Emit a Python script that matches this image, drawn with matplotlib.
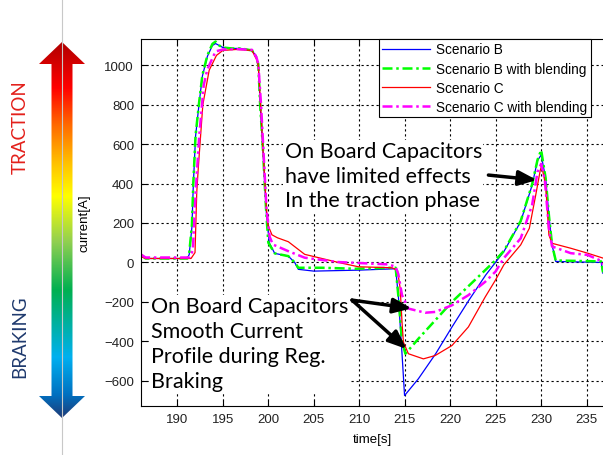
import numpy as np
import matplotlib
matplotlib.use("Agg")
import matplotlib.pyplot as plt
from matplotlib.path import Path
from matplotlib.patches import PathPatch
from matplotlib.colors import LinearSegmentedColormap

plt.rcParams['font.family'] = ['Liberation Sans', 'DejaVu Sans']

# Scenario B (no blending)
t_b = [186.0, 186.5, 191.1, 191.3, 191.6, 191.75, 192.0, 192.4, 192.75, 193.3, 193.85, 194.2,
       194.6, 195.0, 196.0, 197.0, 198.2, 198.6, 198.9, 199.1, 199.4, 199.75, 200.1, 200.7,
       202.2, 202.9, 203.3, 205.0, 207.0, 210.0, 214.0, 214.3, 214.7, 214.98, 216.5, 218.4,
       220.2, 222.05, 223.9, 225.9, 227.75, 229.0, 229.6, 230.0, 230.5, 230.85, 231.2, 231.6,
       236.6, 236.8]
i_b = [40, 20, 20, 40, 180, 390, 640, 810, 945, 1045, 1100, 1110,
       1100, 1090, 1085, 1085, 1075, 1050, 1005, 800, 580, 270, 100, 46,
       32, 0, -35, -44, -42, -39, -32, -171, -463, -675, -590, -463,
       -327, -192, -64, 55, 207, 391, 517, 545, 425, 240, 89, 5,
       0, -55]

# Scenario B with blending
t_bb = [186.0, 186.5, 191.1, 191.3, 191.6, 191.75, 192.0, 192.4, 192.75, 193.3, 193.85, 194.2,
        194.6, 195.0, 196.0, 197.0, 198.2, 198.6, 198.9, 199.1, 199.4, 199.75, 200.0, 200.7,
        202.2, 202.9, 203.3, 205.9, 209.55, 213.6, 214.0, 214.3, 214.7, 215.07, 216.5, 220.2,
        223.85, 224.8, 225.9, 227.75, 229.0, 229.6, 230.0, 230.5, 230.85, 231.2, 231.6, 236.6,
        236.8]
i_bb = [40, 20, 20, 45, 190, 400, 645, 815, 950, 1050, 1108, 1120,
        1100, 1090, 1085, 1085, 1075, 1050, 1005, 800, 580, 270, 100, 46,
        32, 0, -27, -27, -32, -27, -27, -171, -400, -463, -387, -200,
        -39, 3, 58, 210, 395, 520, 570, 425, 240, 89, 10, 5,
        -50]

# Scenario C (no blending)
t_c = [186.0, 186.5, 191.5, 191.94, 192.13, 192.3, 192.8, 193.5, 194.3, 195.0, 196.5, 198.2,
       198.7, 198.9, 199.15, 199.4, 199.8, 199.95, 200.4, 201.0, 202.2, 204.0, 207.7, 209.9,
       213.6, 214.2, 214.5, 214.7, 214.85, 215.4, 217.05, 218.35, 220.2, 222.0, 223.85, 224.97,
       225.9, 227.75, 228.7, 229.4, 229.9, 230.05, 230.5, 230.85, 231.2, 233.25, 235.1, 236.8]
i_c = [30, 20, 20, 50, 355, 480, 800, 975, 1050, 1075, 1080, 1075,
       1030, 1000, 800, 580, 270, 190, 140, 125, 105, 41, 0, -22,
       -27, -40, -132, -302, -404, -463, -489, -472, -421, -327, -175, -90,
       -12, 89, 173, 341, 467, 490, 391, 139, 97, 72, 47, 22]

# Scenario C with blending
t_cb = [186.0, 186.5, 191.3, 191.7, 192.0, 192.4, 192.9, 193.3, 194.2, 195.0, 196.5, 198.2,
        198.7, 198.9, 199.2, 199.45, 199.8, 200.15, 200.5, 202.2, 204.0, 207.7, 213.2, 214.0,
        214.3, 214.7, 215.4, 217.25, 218.35, 220.2, 222.0, 223.85, 224.97, 225.9, 227.75, 229.0,
        229.6, 230.0, 230.4, 230.85, 231.2, 233.25, 235.1, 236.5, 236.8]
i_cb = [40, 25, 25, 60, 350, 641, 900, 980, 1070, 1080, 1082, 1078,
        1040, 1005, 800, 580, 270, 130, 91, 57, 24, 2, -10, -22,
        -60, -166, -234, -255, -251, -217, -166, -98, -47, 22, 122, 290,
        459, 500, 420, 173, 81, 47, 38, 10, -10]

labels = ['Scenario B', 'Scenario B with blending', 'Scenario C', 'Scenario C with blending']
notes = ['On Board Capacitors\nhave limited effects\nIn the traction phase',
         'On Board Capacitors\nSmooth Current\nProfile during Reg.\nBraking']

fig = plt.figure(figsize=(6.03, 4.56), dpi=100)

# left decoration: gradient arrow with TRACTION / BRAKING
ax_l = fig.add_axes([0, 0, 1, 1], zorder=-1)
ax_l.set_xlim(0, 603)
ax_l.set_ylim(456, 0)
ax_l.axis('off')
ax_l.plot([62, 62], [0, 456], color='#c8c8c8', lw=0.8)
cx = 62
verts = [(cx, 43), (cx + 23, 65), (cx + 10.5, 65), (cx + 10.5, 397), (cx + 23, 397), (cx, 419),
         (cx - 23, 397), (cx - 10.5, 397), (cx - 10.5, 65), (cx - 23, 65), (cx, 43)]
arrow = PathPatch(Path(verts, closed=True), facecolor='none', edgecolor='none')
ax_l.add_patch(arrow)
cmap = LinearSegmentedColormap.from_list('tb', [
    (0.0, '#b00000'), (0.12, '#ff0000'), (0.22, '#ff6a00'), (0.32, '#ffc000'),
    (0.41, '#ffff00'), (0.53, '#92d050'), (0.66, '#00b050'), (0.84, '#00b0f0'),
    (0.94, '#0070c0'), (1.0, '#1f3c78')])
grad = np.linspace(0, 1, 256).reshape(-1, 1)
im = ax_l.imshow(grad, cmap=cmap, extent=[cx - 24, cx + 24, 419, 43], aspect='auto')
im.set_clip_path(arrow)
ax_l.set_xlim(0, 603)
ax_l.set_ylim(456, 0)
fig.text(20 / 603, 1 - 127 / 456, 'TRACTION', rotation=90, color='#e3201b', fontsize=13.5,
         family='Lato', ha='center', va='center')
fig.text(20 / 603, 1 - 337 / 456, 'BRAKING', rotation=90, color='#1f3a6e', fontsize=13.5,
         family='Lato', ha='center', va='center')

# main chart
ax = fig.add_axes([141 / 603, 1 - 407 / 456, 462 / 603, 367 / 456])
ax.plot(t_b, i_b, color='#0000ff', lw=0.9, label=labels[0])
ax.plot(t_bb, i_bb, color='#00ff00', lw=1.8, ls=(0, (4, 1.5, 1, 1.5)), label=labels[1])
ax.plot(t_c, i_c, color='#ff0000', lw=0.9, label=labels[2])
ax.plot(t_cb, i_cb, color='#ff00ff', lw=1.8, ls=(0, (4, 1.5, 1, 1.5)), label=labels[3])

ax.set_xlim(186, 236.8)
ax.set_ylim(-728, 1133)
ax.set_xticks(np.arange(190, 236, 5))
ax.set_yticks(np.arange(-600, 1001, 200))
ax.grid(True, color='black', ls=(0, (2, 2.5)), lw=0.8)
ax.set_axisbelow(True)
ax.tick_params(direction='in', length=4, top=True, right=False, labelsize=9.5, pad=5,
               labelcolor='#222222')
ax.spines['right'].set_visible(False)
ax.set_xlabel('time[s]', fontsize=9.5, labelpad=6)
ax.set_ylabel('current[A]', fontsize=9.5, labelpad=10)

leg = ax.legend(loc='upper right', bbox_to_anchor=(0.974, 1.0), borderaxespad=0,
                fancybox=False, framealpha=1, edgecolor='black', fontsize=9.8,
                handlelength=3.5, labelspacing=0.38, handletextpad=0.5, borderpad=0.25)
leg.get_frame().set_linewidth(0.8)

ax.text(201.8, 440, notes[0], family='Lato', fontsize=15.5, ha='left', va='center',
        linespacing=1.3, bbox=dict(facecolor='white', edgecolor='none', pad=1))
ax.text(187.06, -411, notes[1], family='Lato', fontsize=15.5, ha='left', va='center',
        linespacing=1.3, bbox=dict(facecolor='white', edgecolor='none', pad=1))

aprops = dict(arrowstyle='-|>,head_length=1.1,head_width=0.45', lw=2.5, color='black',
              mutation_scale=10, shrinkA=0, shrinkB=0)
ax.annotate('', xy=(229.53, 418), xytext=(224.2, 443), arrowprops=aprops)
ax.annotate('', xy=(215.74, -233), xytext=(209.2, -191), arrowprops=aprops)
ax.annotate('', xy=(215.19, -439), xytext=(209.2, -191), arrowprops=aprops)

fig.savefig('out.png', dpi=100)
